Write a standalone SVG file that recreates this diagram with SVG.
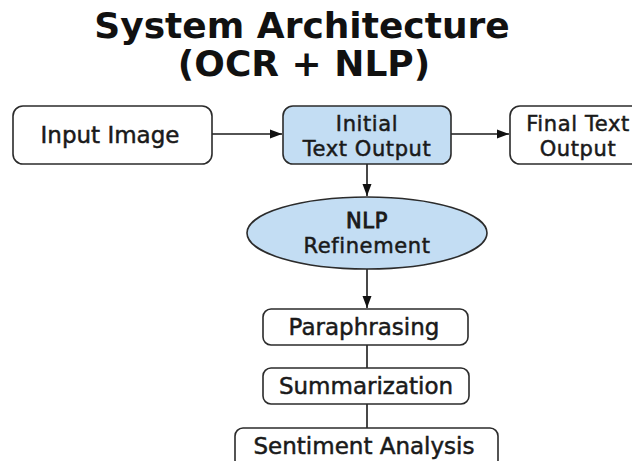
<svg xmlns="http://www.w3.org/2000/svg" width="632" height="461" viewBox="0 0 632 461">
<defs>
<style>
.title{font-family:"DejaVu Sans",sans-serif;font-weight:bold;font-size:36px;fill:#111;text-anchor:middle}
.lbl{font-family:"DejaVu Sans",sans-serif;font-size:23px;fill:#1a1a1a;text-anchor:middle;stroke:#1a1a1a;stroke-width:0.5}
.two{font-size:21px;letter-spacing:0.6px}
.box{fill:#fff;stroke:#2b2b2b;stroke-width:1.6}
.blue{fill:#c3ddf3;stroke:#2b2b2b;stroke-width:1.6}
.ln{stroke:#1a1a1a;stroke-width:1.6;fill:none}
</style>
<marker id="ah" viewBox="0 0 12 10" refX="12" refY="5" markerWidth="12" markerHeight="10" markerUnits="userSpaceOnUse" orient="auto">
<path d="M0,0.5 L12,5 L0,9.5 Z" fill="#111"/>
</marker>
</defs>
<rect width="632" height="461" fill="#fff"/>
<g id="title">
<text class="title" x="302" y="38">System Architecture</text>
<text class="title" x="304" y="76">(OCR + NLP)</text>
</g>
<g id="connectors">
<line class="ln" x1="212" y1="134" x2="282" y2="134" marker-end="url(#ah)"/>
<line class="ln" x1="451" y1="134" x2="509" y2="134" marker-end="url(#ah)"/>
<line class="ln" x1="367" y1="164" x2="367" y2="196" marker-end="url(#ah)"/>
<line class="ln" x1="367" y1="269" x2="367" y2="308" marker-end="url(#ah)"/>
<line class="ln" x1="367" y1="345" x2="367" y2="368"/>
<line class="ln" x1="367" y1="404" x2="367" y2="428"/>
</g>
<g id="input-image">
<rect class="box" x="13" y="106" width="199" height="58" rx="10"/>
<text class="lbl" x="110" y="143">Input Image</text>
</g>
<g id="initial-text-output">
<rect class="blue" x="283" y="106" width="168" height="58" rx="10"/>
<text class="lbl two" x="367" y="131">Initial</text>
<text class="lbl two" x="367" y="156">Text Output</text>
</g>
<g id="final-text-output">
<rect class="box" x="510" y="106" width="140" height="58" rx="10"/>
<text class="lbl two" x="578" y="131">Final Text</text>
<text class="lbl two" x="578" y="156">Output</text>
</g>
<g id="nlp-refinement">
<ellipse class="blue" cx="367" cy="233" rx="120" ry="36"/>
<text class="lbl two" x="367" y="228" style="stroke-width:0.9">NLP</text>
<text class="lbl two" x="367" y="253">Refinement</text>
</g>
<g id="paraphrasing">
<rect class="box" x="263" y="309" width="205" height="36" rx="8"/>
<text class="lbl" x="364" y="335">Paraphrasing</text>
</g>
<g id="summarization">
<rect class="box" x="263" y="368" width="206" height="36" rx="8"/>
<text class="lbl" x="366" y="394">Summarization</text>
</g>
<g id="sentiment-analysis">
<rect class="box" x="235" y="428" width="263" height="40" rx="8"/>
<text class="lbl" x="364" y="454">Sentiment Analysis</text>
</g>
</svg>
